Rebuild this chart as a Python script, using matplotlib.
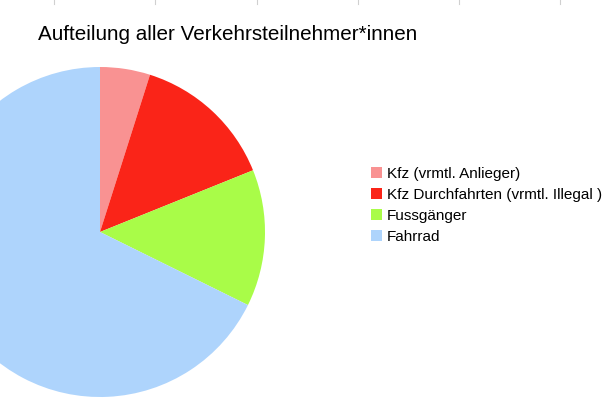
import matplotlib
matplotlib.use("Agg")
import matplotlib.pyplot as plt
from matplotlib.lines import Line2D

plt.rcParams['font.family'] = ['Liberation Sans', 'DejaVu Sans']

categories = ["Kfz (vrmtl. Anlieger)", "Kfz Durchfahrten (vrmtl. Illegal )", "Fussgänger", "Fahrrad"]
values = [4.9, 14.0, 13.4, 67.7]
colors = ["#F99292", "#FA2418", "#A9FC48", "#AED4FC"]
title = "Aufteilung aller Verkehrsteilnehmer*innen"

W, H = 608, 405
fig = plt.figure(figsize=(W / 100, H / 100), dpi=100)

cx, cy, r = 100, 232, 165
ax = fig.add_axes([(cx - r) / W, (H - cy - r) / H, 2 * r / W, 2 * r / H])
wedges, _ = ax.pie(values, colors=colors, startangle=90, counterclock=False,
                   radius=1.0, wedgeprops=dict(linewidth=0))
ax.set_xlim(-1, 1)
ax.set_ylim(-1, 1)
ax.set_aspect('equal')
ax.axis('off')

fig.text(38 / W, 1 - 34 / H, title, fontsize=14.9, va='center', ha='left', color='black')

# spreadsheet column markers at top edge
for x in [54, 155, 257, 358, 459, 560]:
    fig.add_artist(Line2D([x / W, x / W], [1, 1 - 4 / H], color='#d0d0d0', linewidth=0.8))

leg = fig.legend(wedges, categories, loc='upper left',
                 bbox_to_anchor=(365 / W, 1 - 161 / H), frameon=False,
                 fontsize=11, handlelength=0.7, handleheight=0.7,
                 handletextpad=0.35, labelspacing=0.45, borderaxespad=0)

fig.savefig("out.png", dpi=100, facecolor='white')
